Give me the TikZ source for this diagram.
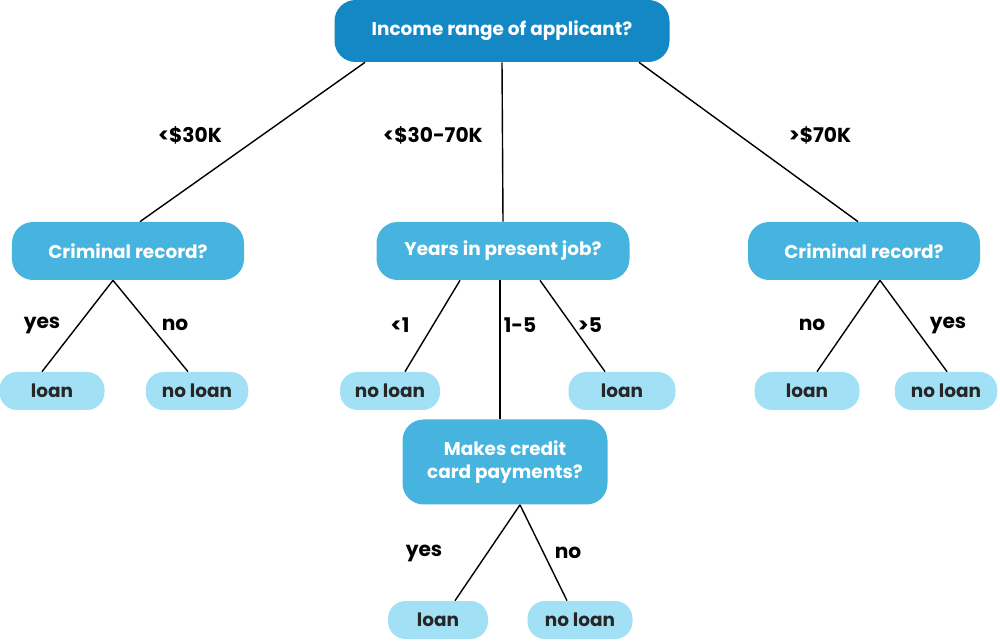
\documentclass[tikz,border=0pt]{standalone}
\usepackage{fontspec}
\setmainfont{Poppins}
\usetikzlibrary{positioning}
\definecolor{darkblue}{HTML}{1388C4}
\definecolor{midblue}{HTML}{46B4DE}
\definecolor{leafblue}{HTML}{A2E1F5}
\begin{document}
\begin{tikzpicture}[
    question/.style={rounded corners=12pt, text=white, font=\bfseries\fontsize{10.5}{13}\selectfont, align=center},
    leaf/.style={rounded corners=10pt, fill=leafblue, text=black!85, font=\bfseries\fontsize{10.5}{13}\selectfont, minimum width=2.05cm, minimum height=0.76cm},
    lbl/.style={font=\bfseries\fontsize{11.5}{13}\selectfont, text=black},
    branch/.style={draw=black, thick}]

\useasboundingbox (0,0) rectangle (20,12.84);

\begin{scope}[every node/.style={question}]
    \node (root) at (10.04, 12.22) [fill=darkblue, minimum width=6.7cm, minimum height=1.24cm] {Income range of applicant?};
    \node (crimL) at (2.56, 7.82) [fill=midblue, minimum width=4.64cm, minimum height=1.16cm] {Criminal record?};
    \node (years) at (10.06, 7.82) [fill=midblue, minimum width=5.06cm, minimum height=1.16cm] {Years in present job?};
    \node (crimR) at (17.28, 7.82) [fill=midblue, minimum width=4.64cm, minimum height=1.16cm] {Criminal record?};
    \node (credit) at (10.1, 3.6) [fill=midblue, minimum width=4.1cm, minimum height=1.7cm] {Makes credit\\card payments?};
\end{scope}

\node (loanA) at (1.04, 5.02) [leaf, minimum width=2.1cm] {loan};
\node (noloanA) at (3.94, 5.02) [leaf] {no loan};
\node (noloanB) at (7.8, 5.02) [leaf, minimum width=2cm] {no loan};
\node (loanB) at (12.44, 5.02) [leaf, minimum width=2.14cm] {loan};
\node (loanC) at (16.14, 5.02) [leaf, minimum width=2.1cm] {loan};
\node (noloanC) at (18.92, 5.02) [leaf] {no loan};
\node (loanD) at (8.76, 0.44) [leaf, minimum width=2cm] {loan};
\node (noloanD) at (11.6, 0.44) [leaf, minimum width=2.1cm] {no loan};

\draw [branch] ([xshift=-2.74cm]root.south) -- ([xshift=0.24cm]crimL.north);
\draw [branch] (root.south) -- (years.north);
\draw [branch] ([xshift=2.74cm]root.south) -- ([xshift=-0.12cm]crimR.north);

\draw [branch] ([xshift=-0.3cm]crimL.south) -- ([xshift=-0.2cm]loanA.north);
\draw [branch] ([xshift=-0.3cm]crimL.south) -- ([xshift=-0.18cm]noloanA.north);

\draw [branch] ([xshift=-0.86cm]years.south) -- ([xshift=0.3cm]noloanB.north);
\draw [branch] ([xshift=-0.06cm]years.south) -- ([xshift=-0.1cm]credit.north);
\draw [branch] ([xshift=0.74cm]years.south) -- ([xshift=-0.34cm]loanB.north);

\draw [branch] ([xshift=0.32cm]crimR.south) -- ([xshift=0.2cm]loanC.north);
\draw [branch] ([xshift=0.32cm]crimR.south) -- ([xshift=0.02cm]noloanC.north);

\draw [branch] ([xshift=0.3cm]credit.south) -- ([xshift=0.34cm]loanD.north);
\draw [branch] ([xshift=0.3cm]credit.south) -- ([xshift=-0.26cm]noloanD.north);

\node [lbl] at (3.8, 10.14) {<\$30K};
\node [lbl] at (8.66, 10.14) {<\$30-70K};
\node [lbl] at (16.4, 10.14) {>\$70K};
\node [lbl] at (0.84, 6.34) {yes};
\node [lbl] at (3.5, 6.34) {no};
\node [lbl] at (8.0, 6.34) {<1};
\node [lbl] at (10.4, 6.34) {1-5};
\node [lbl] at (11.8, 6.34) {>5};
\node [lbl] at (16.24, 6.34) {no};
\node [lbl] at (18.96, 6.34) {yes};
\node [lbl] at (8.48, 1.78) {yes};
\node [lbl] at (11.36, 1.78) {no};

\end{tikzpicture}
\end{document}
